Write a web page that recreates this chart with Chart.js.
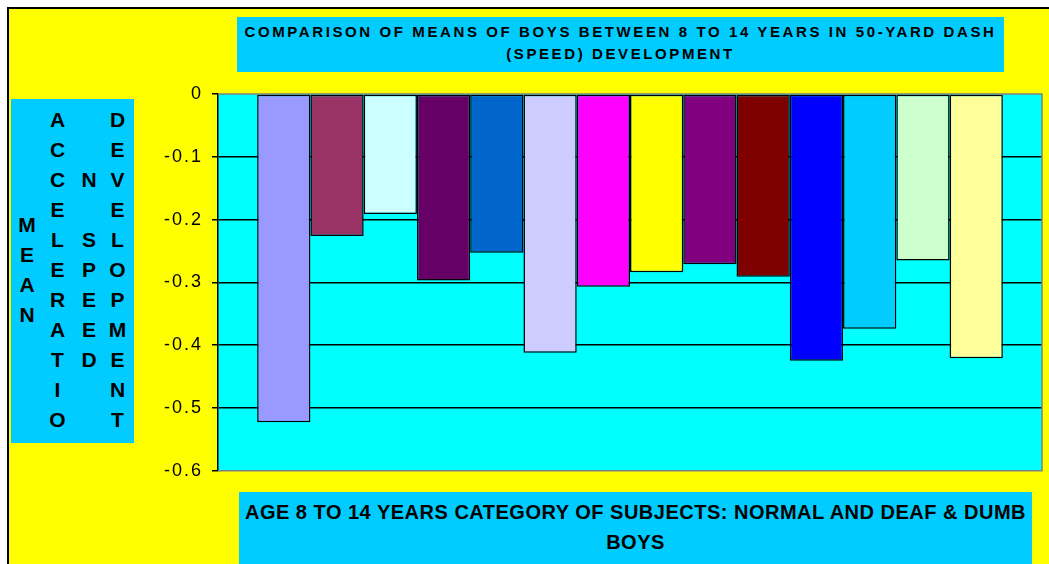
<!DOCTYPE html>
<html>
<head>
<meta charset="utf-8">
<script src="https://cdn.jsdelivr.net/npm/chart.js@4/dist/chart.umd.min.js"></script>
<style>
  html, body { margin: 0; padding: 0; background: #ffffff; }
  body { width: 1049px; height: 564px; position: relative; overflow: hidden; font-family: "Liberation Sans", Arial, sans-serif; }
  #frame { position: absolute; left: 7px; top: 7px; width: 1042px; height: 557px; background: #FFFF00;
           border-top: 2px solid #000; border-left: 2px solid #000; box-sizing: border-box; }
  #c { position: absolute; left: 0; top: 0; z-index: 1; }
  .box { position: absolute; background: #00CCFF; z-index: 2; color: #000; font-weight: bold; text-align: center; box-sizing: border-box; }
  #title { left: 237px; top: 17px; width: 767px; height: 55px; font-size: 15px; line-height: 21.6px; padding-top: 4px; letter-spacing: 2.6px; white-space: nowrap; }
  #xtitle { left: 239px; top: 492px; width: 793px; height: 72px; font-size: 20px; line-height: 30px; padding-top: 5px; white-space: nowrap; letter-spacing: 0.5px; }
  #ytitle { left: 11px; top: 99px; width: 123px; height: 344px; }
  .col { position: absolute; width: 30px; font-size: 21px; line-height: 30px; text-align: center; }
</style>
</head>
<body>
<div id="frame"></div>
<canvas id="c" width="1049" height="564"></canvas>
<div id="title" class="box"></div>
<div id="ytitle" class="box"></div>
<div id="xtitle" class="box"></div>
<script>
// ---- data ----
const seriesNames = ["Series 1","Series 2","Series 3","Series 4","Series 5","Series 6","Series 7",
                     "Series 8","Series 9","Series 10","Series 11","Series 12","Series 13","Series 14"];
const seriesValues = [-0.523, -0.226, -0.191, -0.297, -0.253, -0.412, -0.307,
                      -0.284, -0.271, -0.291, -0.425, -0.374, -0.265, -0.421];
const seriesColors = ["#9999FF","#993366","#CCFFFF","#660066","#0066CC","#CCCCFF","#FF00FF",
                      "#FFFF00","#800080","#800000","#0000FF","#00CCFF","#CCFFCC","#FFFF99"];
const categories = [""];
const yTickLabels = ["-0.6","-0.5","-0.4","-0.3","-0.2","-0.1","0"];
const titleLines = ["COMPARISON OF MEANS OF BOYS BETWEEN 8 TO 14 YEARS IN 50-YARD DASH", "(SPEED) DEVELOPMENT"];
const xTitleLines = ["AGE 8 TO 14 YEARS CATEGORY OF SUBJECTS: NORMAL AND DEAF & DUMB", "BOYS"];
const yTitleColumns = ["MEAN", "ACCELERATIO", "N SPEED", "DEVELOPMENT"];

// ---- text boxes ----
document.getElementById('title').innerHTML = titleLines.join('<br>');
document.getElementById('xtitle').innerHTML = xTitleLines.join('<br>');
const yBox = document.getElementById('ytitle');
const colCenters = [16, 46.5, 78, 106.5]; // relative to box left
const centerY = 171; // relative to box top
yTitleColumns.forEach((txt, i) => {
  const d = document.createElement('div');
  d.className = 'col';
  const letters = txt.split('');
  d.innerHTML = letters.map(ch => ch === ' ' ? '&nbsp;' : ch).join('<br>');
  d.style.left = (colCenters[i] - 15) + 'px';
  d.style.top = (centerY - letters.length * 15) + 'px';
  yBox.appendChild(d);
});

// ---- chart ----
const plotDeco = {
  id: 'plotDeco',
  beforeDraw(chart) {
    const a = chart.chartArea, ctx = chart.ctx;
    ctx.save();
    ctx.fillStyle = '#00FFFF';
    ctx.fillRect(a.left, a.top, a.right - a.left, a.bottom - a.top);
    ctx.restore();
    if ('letterSpacing' in ctx) ctx.letterSpacing = '2px';
  },
  beforeDatasetsDraw(chart) {
    const a = chart.chartArea, ctx = chart.ctx;
    if ('letterSpacing' in ctx) ctx.letterSpacing = '0px';
    ctx.save();
    ctx.strokeStyle = '#808080';
    ctx.lineWidth = 1.5;
    ctx.beginPath();
    ctx.moveTo(a.left, a.top); ctx.lineTo(a.right, a.top);
    ctx.lineTo(a.right, a.bottom); ctx.lineTo(a.left, a.bottom);
    ctx.stroke();
    ctx.restore();
  }
};

new Chart(document.getElementById('c'), {
  type: 'bar',
  data: {
    labels: categories,
    datasets: seriesValues.map((v, i) => ({
      label: seriesNames[i],
      data: [v],
      backgroundColor: seriesColors[i],
      borderColor: '#000000',
      borderWidth: 1.5,
      borderSkipped: false,
      categoryPercentage: 0.905,
      barPercentage: 1.0
    }))
  },
  options: {
    responsive: false,
    animation: false,
    layout: { padding: { left: 0, top: 94, right: 7, bottom: 93.3 } },
    plugins: { legend: { display: false }, tooltip: { enabled: false }, title: { display: false } },
    scales: {
      x: { display: false },
      y: {
        min: -0.6, max: 0,
        afterFit(scale) { scale.width = 218; },
        ticks: {
          stepSize: 0.1,
          color: '#000',
          padding: 9,
          font: { family: '"Liberation Sans", Arial, sans-serif', size: 18 },
          callback: (value, index) => yTickLabels[index]
        },
        grid: {
          color: ctx => (ctx.index === 0 || ctx.index === yTickLabels.length - 1) ? 'rgba(0,0,0,0)' : '#000',
          lineWidth: 1.5,
          tickColor: '#000',
          tickLength: 6,
          drawOnChartArea: true
        },
        border: { display: true, color: '#000', width: 1.5 }
      }
    }
  },
  plugins: [plotDeco]
});
</script>
</body>
</html>
